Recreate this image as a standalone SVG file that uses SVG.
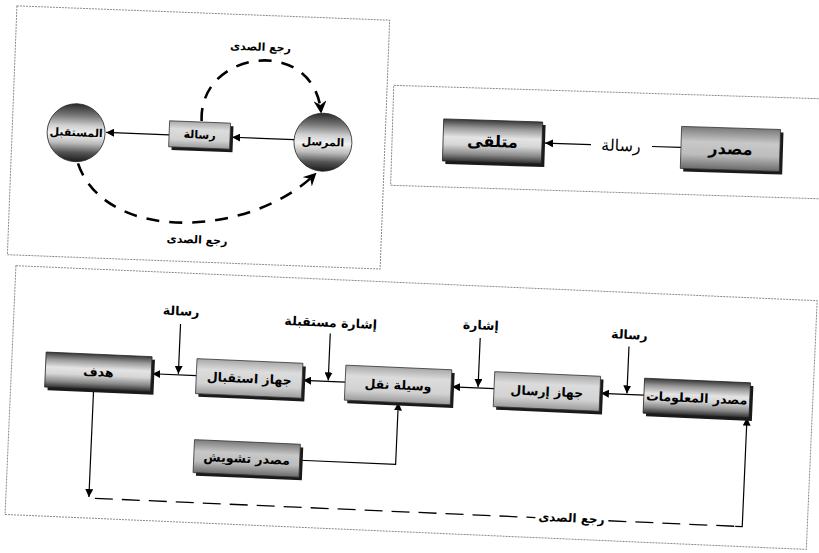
<svg xmlns="http://www.w3.org/2000/svg" width="819" height="553" viewBox="0 0 819 553">
<style>
.frame{fill:none;stroke:#8a8a8a;stroke-width:1;stroke-dasharray:2 1}
.shadow{fill:#1a1a1a}
.bx-dark{fill:url(#gDark);stroke:#222;stroke-width:0.8}
.bx-light{fill:url(#gLight);stroke:#333;stroke-width:0.8}
.bx-mid{fill:url(#gMid);stroke:#333;stroke-width:0.8}
.sph{fill:url(#gSphere);stroke:#222;stroke-width:0.8}
.t{font-family:"DejaVu Sans","Noto Sans",sans-serif;font-weight:bold;fill:#000;text-anchor:middle;dominant-baseline:central}
.ln{fill:none;stroke:#000;stroke-width:1.2}
.arc{fill:none;stroke:#000;stroke-width:2.6;stroke-dasharray:13 10}
.dash{fill:none;stroke:#000;stroke-width:1.3;stroke-dasharray:18 9}
</style>
<defs>
<linearGradient id="gDark" x1="0" y1="0" x2="0" y2="1">
<stop offset="0" stop-color="#3a3a3a"/><stop offset="0.2" stop-color="#9a9a9a"/><stop offset="0.42" stop-color="#e4e4e4"/><stop offset="0.6" stop-color="#d6d6d6"/><stop offset="0.82" stop-color="#8a8a8a"/><stop offset="1" stop-color="#2e2e2e"/>
</linearGradient>
<linearGradient id="gLight" x1="0" y1="0" x2="0" y2="1">
<stop offset="0" stop-color="#a8a8a8"/><stop offset="0.3" stop-color="#dcdcdc"/><stop offset="0.7" stop-color="#d2d2d2"/><stop offset="1" stop-color="#9a9a9a"/>
</linearGradient>
<linearGradient id="gMid" x1="0" y1="0" x2="0" y2="1">
<stop offset="0" stop-color="#7a7a7a"/><stop offset="0.35" stop-color="#c8c8c8"/><stop offset="0.65" stop-color="#bdbdbd"/><stop offset="1" stop-color="#6a6a6a"/>
</linearGradient>
<linearGradient id="gSphere" x1="0" y1="0" x2="0" y2="1">
<stop offset="0" stop-color="#2a2a2a"/><stop offset="0.2" stop-color="#777"/><stop offset="0.38" stop-color="#d0d0d0"/><stop offset="0.52" stop-color="#f2f2f2"/><stop offset="0.68" stop-color="#bbb"/><stop offset="0.84" stop-color="#555"/><stop offset="1" stop-color="#1a1a1a"/>
</linearGradient>
<marker id="ah" viewBox="0 0 10 10" refX="10" refY="5" markerWidth="8" markerHeight="8" markerUnits="userSpaceOnUse" orient="auto">
<path d="M0,0 L10,5 L0,10 z" fill="#000"/>
</marker>
<marker id="ahv" viewBox="0 0 12 12" refX="11" refY="6" markerWidth="13" markerHeight="13" markerUnits="userSpaceOnUse" orient="auto">
<path d="M0,0 L12,6 L0,12 L4,6 z" fill="#000"/>
</marker>
</defs>
<rect width="819" height="553" fill="#fff"/>

<!-- Panel 1: top-left -->
<g id="panel-top-left" transform="rotate(2.2 200 138)">
<rect class="frame" x="12" y="13" width="373" height="249"/>
<g id="connectors-top-left">
<path class="ln" d="M294,136 H232" marker-end="url(#ah)"/>
<path class="ln" d="M169,136 H106" marker-end="url(#ah)"/>
<path class="arc" d="M201,121 C195,50 310,30 320,108" marker-end="url(#ahv)"/>
<path class="arc" d="M79,168 C110,248 255,235 317,169" marker-end="url(#ahv)"/>
<text class="t" x="257" y="45" font-size="11">رجع الصدى</text>
<text class="t" x="201" y="240" font-size="11">رجع الصدى</text>
</g>
<g id="node-receiver-circle">
<circle class="sph" cx="76" cy="137.5" r="29"/>
<text class="t" x="76" y="137.5" font-size="11">المستقبل</text>
</g>
<g id="node-message-box">
<rect class="shadow" x="172" y="125" width="61" height="26"/>
<rect class="bx-light" x="169" y="122" width="61" height="26"/>
<text class="t" x="199.5" y="135" font-size="11">رسالة</text>
</g>
<g id="node-sender-circle">
<circle class="sph" cx="323" cy="137.5" r="29"/>
<text class="t" x="323" y="137.5" font-size="11">المرسل</text>
</g>
</g>

<!-- Panel 2: top-right -->
<g id="panel-top-right" transform="rotate(1.8 605 145)">
<rect class="frame" x="392" y="92" width="440" height="100"/>
<g id="connectors-top-right">
<path class="ln" d="M681,145 H652"/>
<text x="621" y="145" font-size="16" font-family="DejaVu Sans, Noto Sans, sans-serif" text-anchor="middle" dominant-baseline="central">رسالة</text>
<path class="ln" d="M591,145 H545" marker-end="url(#ah)"/>
</g>
<g id="node-recipient">
<rect class="shadow" x="446" y="127" width="99" height="42"/>
<rect class="bx-dark" x="443" y="124" width="99" height="42"/>
<text class="t" x="492.5" y="145" font-size="16">متلقى</text>
</g>
<g id="node-source">
<rect class="shadow" x="684" y="127" width="99" height="42"/>
<rect class="bx-mid" x="681" y="124" width="99" height="42"/>
<text class="t" x="730.5" y="145" font-size="16">مصدر</text>
</g>
</g>

<!-- Panel 3: bottom -->
<g id="panel-bottom" transform="rotate(2.5 410 410)">
<rect class="frame" x="10" y="283" width="802" height="249"/>
<g id="connectors-bottom">
<path class="ln" d="M643,385 H600" marker-end="url(#ah)"/>
<path class="ln" d="M493,385 H451" marker-end="url(#ah)"/>
<path class="ln" d="M344,385 H302" marker-end="url(#ah)"/>
<path class="ln" d="M195,385 H151" marker-end="url(#ah)"/>
<path class="ln" d="M626,337 V384" marker-end="url(#ah)"/>
<path class="ln" d="M477,335 V384" marker-end="url(#ah)"/>
<path class="ln" d="M327,337 V384" marker-end="url(#ah)"/>
<path class="ln" d="M177,334 V384" marker-end="url(#ah)"/>
<path class="ln" d="M302,465 H398 V403" marker-end="url(#ah)"/>
<path class="ln" d="M93,403 V511" marker-end="url(#ah)"/>
<path class="dash" d="M99,512 H540"/>
<path class="dash" d="M613,512 H742"/>
<path class="ln" d="M740,512 H747 V403" marker-end="url(#ah)"/>
<text class="t" x="626" y="325" font-size="12.5">رسالة</text>
<text class="t" x="477" y="322" font-size="12.5">إشارة</text>
<text class="t" x="327" y="326" font-size="12.5">إشارة مستقبلة</text>
<text class="t" x="177" y="321" font-size="12.5">رسالة</text>
<text class="t" x="576" y="511" font-size="12">رجع الصدى</text>
</g>
<g id="node-info-source">
<rect class="shadow" x="646" y="371" width="106" height="35"/>
<rect class="bx-dark" x="643" y="368" width="106" height="35"/>
<text class="t" x="696" y="385.5" font-size="12.5">مصدر المعلومات</text>
</g>
<g id="node-transmitter">
<rect class="shadow" x="496" y="371" width="106" height="35"/>
<rect class="bx-light" x="493" y="368" width="106" height="35"/>
<text class="t" x="546" y="385.5" font-size="12.5">جهاز إرسال</text>
</g>
<g id="node-channel">
<rect class="shadow" x="347" y="371" width="106" height="35"/>
<rect class="bx-light" x="344" y="368" width="106" height="35"/>
<text class="t" x="397" y="385.5" font-size="12.5">وسيلة نقل</text>
</g>
<g id="node-receiver">
<rect class="shadow" x="198" y="371" width="106" height="35"/>
<rect class="bx-light" x="195" y="368" width="106" height="35"/>
<text class="t" x="248" y="385.5" font-size="12.5">جهاز استقبال</text>
</g>
<g id="node-destination">
<rect class="shadow" x="47" y="371" width="106" height="35"/>
<rect class="bx-dark" x="44" y="368" width="106" height="35"/>
<text class="t" x="97" y="385.5" font-size="12.5">هدف</text>
</g>
<g id="node-noise-source">
<rect class="shadow" x="199" y="452" width="106" height="33"/>
<rect class="bx-mid" x="196" y="449" width="106" height="33"/>
<text class="t" x="249" y="465.5" font-size="12.5">مصدر تشويش</text>
</g>
</g>
</svg>
